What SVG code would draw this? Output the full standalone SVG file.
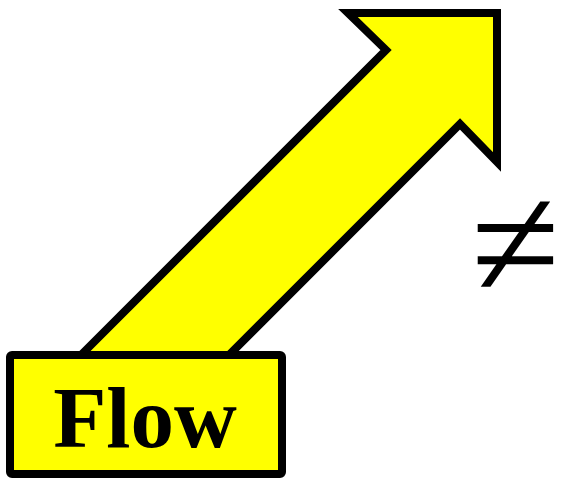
<svg xmlns="http://www.w3.org/2000/svg" width="562" height="479" viewBox="0 0 562 479">
  <style>
    .shape { fill: #ffff00; stroke: #000000; stroke-width: 8; stroke-linejoin: miter; }
    .box { fill: #ffff00; stroke: #000000; stroke-width: 8; }
    .label { font-family: "Liberation Serif", "Times New Roman", serif; font-weight: bold; fill: #000000; }
    .sym { font-family: "Liberation Serif", "Times New Roman", serif; fill: #000000; }
  </style>
  <g id="connectors">
    <polygon class="shape" points="46,390 386,50 348,13 497,13 497,162 460,124 194,390"/>
  </g>
  <g id="flow-node">
    <rect class="box" x="10" y="355" width="272" height="119" rx="2"/>
    <text class="label" x="145" y="447" font-size="87" text-anchor="middle">Flow</text>
  </g>
  <g id="not-equal">
    <text class="sym" x="471" y="298" font-size="162">≠</text>
  </g>
</svg>
